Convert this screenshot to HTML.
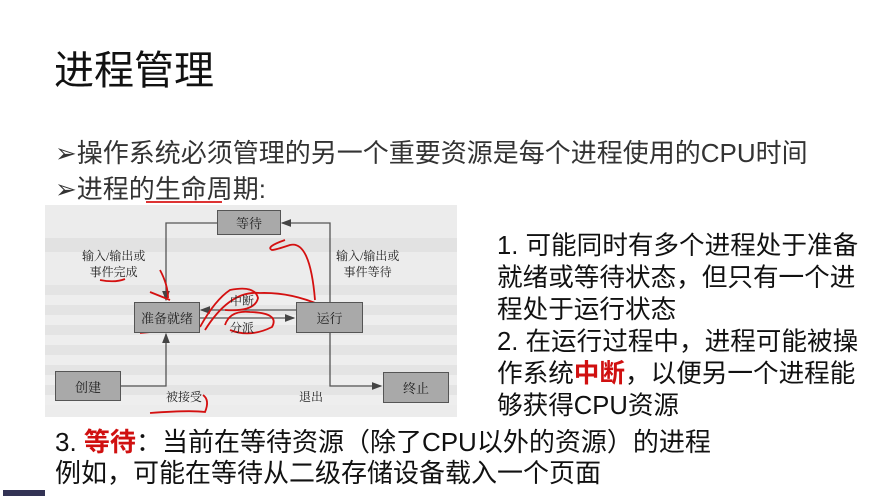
<!DOCTYPE html>
<html><head><meta charset="utf-8"><style>
body{margin:0;width:889px;height:500px;background:#fff;position:relative;overflow:hidden;font-family:"Liberation Sans","Noto Sans CJK SC",sans-serif;color:#222}
.t{position:absolute;white-space:nowrap}
.b{position:absolute;background:#a9a9a9;border:1px solid #555;font-size:13px;display:flex;align-items:center;justify-content:center;color:#222;font-family:"Liberation Serif","Noto Serif CJK SC",serif}
.l{position:absolute;font-size:12px;color:#222;white-space:nowrap;text-align:center;line-height:16px;font-family:"Liberation Serif","Noto Serif CJK SC",serif}
</style></head><body>
<div class="t" style="left:54px;top:38px;font-size:40px;color:#111">进程管理</div>
<div class="t" style="left:55px;top:133px;font-size:26px;color:#333">➢操作系统必须管理的另一个重要资源是每个进程使用的CPU时间</div>
<div class="t" style="left:55px;top:169px;font-size:26px;color:#333">➢进程的生命周期:</div>
<div style="position:absolute;left:146px;top:201px;width:76px;height:2px;background:#d33"></div>

<div style="position:absolute;left:45px;top:205px;width:412px;height:212px;background:#ececec"></div>
<div style="position:absolute;left:45px;top:238px;width:412px;height:14px;background:#e2e2e2"></div>
<div style="position:absolute;left:45px;top:285px;width:412px;height:120px;background:repeating-linear-gradient(#e4e4e4 0 10px,#eeeeee 10px 20px)"></div>
<svg style="position:absolute;left:0;top:0" width="889" height="500">
<defs><marker id="a" markerWidth="8" markerHeight="6" refX="7" refY="3" orient="auto"><path d="M0,0L8,3L0,6z" fill="#444"/></marker></defs>
<g stroke="#555" stroke-width="1.3" fill="none">
<path d="M217,223H166V300" marker-end="url(#a)"/>
<path d="M330,302V223H282" marker-end="url(#a)"/>
<path d="M296,310H201" marker-end="url(#a)"/>
<path d="M199,318H294" marker-end="url(#a)"/>
<path d="M120,386H166V334" marker-end="url(#a)"/>
<path d="M330,332V386H381" marker-end="url(#a)"/>
</g>
<g stroke="#d41010" stroke-width="1.8" fill="none">
<path d="M160,270 Q168,285 168,298"/>
<path d="M150,292 Q160,296 170,300"/>
<path d="M315,300 Q310,240 290,245 Q275,250 272,250 Q265,247 285,240"/>
<path d="M200,327 Q215,300 230,290 Q255,285 258,298 Q255,312 225,310"/>
<path d="M205,330 Q230,290 260,293 Q290,292 320,305"/>
<path d="M225,325 Q230,310 250,312 Q280,313 272,327 Q250,338 230,330"/>
<path d="M140,333 Q170,330 195,331"/>
<path d="M300,328 Q310,326 320,325"/>
<path d="M100,280 Q115,283 125,279"/>
<path d="M74,396 Q82,397 92,394"/>
<path d="M150,413 Q190,410 205,412 Q210,400 203,395"/>
</g>
</svg>
<div class="b" style="left:217px;top:210px;width:62px;height:23px">等待</div>
<div class="b" style="left:134px;top:302px;width:64px;height:29px">准备就绪</div>
<div class="b" style="left:296px;top:302px;width:65px;height:29px">运行</div>
<div class="b" style="left:55px;top:371px;width:64px;height:28px">创建</div>
<div class="b" style="left:383px;top:372px;width:64px;height:29px">终止</div>
<div class="l" style="left:82px;top:248px">输入/输出或<br>事件完成</div>
<div class="l" style="left:336px;top:248px">输入/输出或<br>事件等待</div>
<div class="l" style="left:230px;top:293px">中断</div>
<div class="l" style="left:230px;top:320px">分派</div>
<div class="l" style="left:166px;top:389px">被接受</div>
<div class="l" style="left:299px;top:389px">退出</div>

<div class="t" style="left:497px;top:230px;font-size:25.6px;line-height:32px;color:#111">1. 可能同时有多个进程处于准备<br>就绪或等待状态，但只有一个进<br>程处于运行状态<br>2. 在运行过程中，进程可能被操<br>作系统<span style="color:#d01010;font-weight:bold">中断</span>，以便另一个进程能<br>够获得CPU资源</div>
<div class="t" style="left:55px;top:427px;font-size:26px;line-height:31px;color:#111">3. <span style="color:#d01010;font-weight:bold">等待</span>：当前在等待资源（除了CPU以外的资源）的进程<br>例如，可能在等待从二级存储设备载入一个页面</div>
<div style="position:absolute;left:3px;top:490px;width:42px;height:6px;background:#335"></div>
</body></html>
